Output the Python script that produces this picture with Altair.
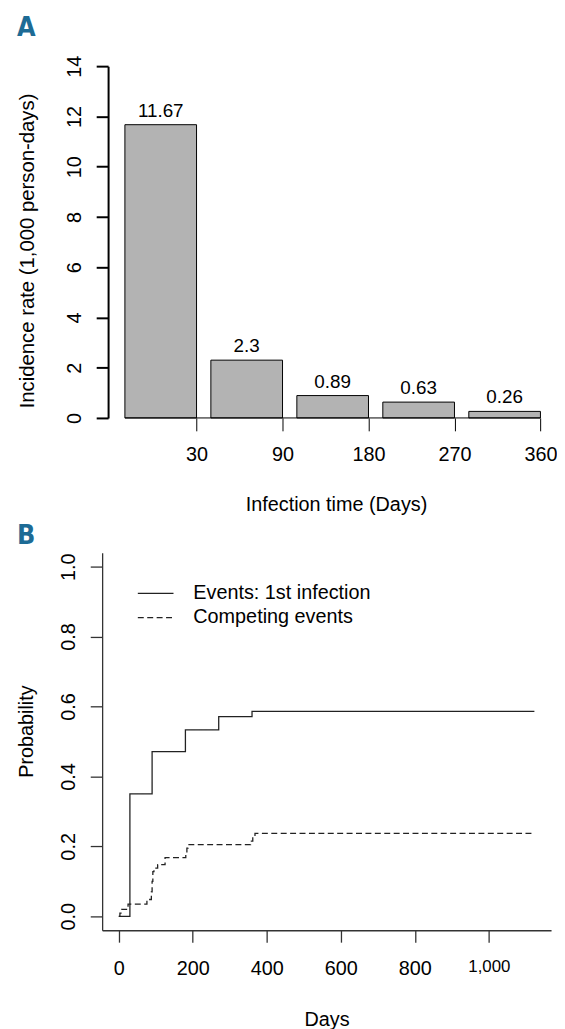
import altair as alt
import pandas as pd

# ---------------- Panel A data ----------------
intervals = ["0-30", "30-90", "90-180", "180-270", "270-360"]
tick_labels = [30, 90, 180, 270, 360]
rates = [11.67, 2.3, 0.89, 0.63, 0.26]
rate_labels = ["11.67", "2.3", "0.89", "0.63", "0.26"]
y_ticks_a = [0, 2, 4, 6, 8, 10, 12, 14]

# ---------------- Panel B data ----------------
series_names = ["Events: 1st infection", "Competing events"]
inf_days = [0, 30, 90, 180, 270, 360, 1123]
inf_prob = [0.0, 0.350, 0.471, 0.533, 0.571, 0.586, 0.586]
comp_days = [0, 3, 8, 25, 76, 88, 90, 92, 95, 105, 125, 181, 184, 187, 356, 362, 368, 1123]
comp_prob = [0.0, 0.009, 0.02, 0.035, 0.048, 0.07, 0.10, 0.128, 0.138, 0.148, 0.168,
             0.18, 0.195, 0.205, 0.215, 0.228, 0.237, 0.237]
x_ticks_b = [0, 200, 400, 600, 800, 1000]
y_ticks_b = [0.0, 0.2, 0.4, 0.6, 0.8, 1.0]

FONT = "Liberation Sans"
PANEL_FONT = "DejaVu Sans Condensed, Roboto Condensed, Roboto, sans-serif"
PANEL_COLOR = "#1d6b95"
BAR_W, GAP = 5, 1  # barplot convention: width 1, space 0.2

lefts = [GAP + (BAR_W + GAP) * i for i in range(len(rates))]
rights = [l + BAR_W for l in lefts]
df_a = pd.DataFrame({
    "interval": intervals, "rate": rates, "label": rate_labels,
    "left": lefts, "right": rights, "mid": [(l + r) / 2 for l, r in zip(lefts, rights)],
})

label_expr = "[%s][indexof([%s], datum.value)]" % (
    ",".join("'%s'" % t for t in tick_labels), ",".join(str(r) for r in rights))

xa_scale = alt.Scale(domain=[-0.588, 30.74], nice=False, zero=False)
ya_scale = alt.Scale(domain=[0, 14], nice=False)

bars = alt.Chart(df_a).mark_rect(fill="#b3b3b3", stroke="#000000", strokeWidth=1).encode(
    x=alt.X("left:Q", scale=xa_scale, axis=alt.Axis(
        values=rights, labelExpr=label_expr, tickSize=13, tickWidth=1, tickColor="#000",
        domain=False, labelFontSize=20, labelPadding=14, labelFlush=False, labelOverlap=False,
        title="Infection time (Days)", titleFontSize=20, titlePadding=30, titleX=236)),
    x2="right:Q",
    y=alt.Y("rate:Q", scale=ya_scale, axis=alt.Axis(
        values=y_ticks_a, tickSize=12, tickWidth=2, tickColor="#000", domainColor="#000",
        domainWidth=2, offset=-6, labelAngle=270, labelAlign="center", labelBaseline="bottom",
        labelFontSize=20, labelPadding=12,
        title="Incidence rate (1,000 person-days)", titleFontSize=20.5, titlePadding=27, titleY=186)),
    y2=alt.datum(0),
)
baseline = alt.Chart(df_a).mark_rule(color="#000", strokeWidth=1).encode(
    x="min(left):Q", x2="max(right):Q", y=alt.datum(0))
values = alt.Chart(df_a).mark_text(dy=-14, baseline="middle", fontSize=19, font=FONT, color="#000").encode(
    x="mid:Q", y="rate:Q", text="label:N")
tag_a = alt.Chart(pd.DataFrame({"panel": ["A"]})).mark_text(
    align="left", baseline="alphabetic", font=PANEL_FONT, fontWeight="bold", fontSize=27,
    color=PANEL_COLOR).encode(text="panel:N", x=alt.value(-86), y=alt.value(-30))

chart_a = alt.layer(bars, baseline, values, tag_a).properties(width=453, height=355)

# ---------------- Panel B ----------------
df_b = pd.concat([
    pd.DataFrame({"series": series_names[0], "day": inf_days, "prob": inf_prob}),
    pd.DataFrame({"series": series_names[1], "day": comp_days, "prob": comp_prob}),
])

lines = alt.Chart(df_b).mark_line(interpolate="step-after", color="#222222", strokeWidth=1.3).encode(
    x=alt.X("day:Q", scale=alt.Scale(domain=[-45, 1168], nice=False, zero=False), axis=alt.Axis(
        values=x_ticks_b, format=",d", tickSize=12, tickColor="#333", domainColor="#333",
        domainWidth=1.3, tickWidth=1.3,
        labelFontSize={"condition": {"test": "datum.value == 1000", "value": 17}, "value": 20},
        labelPadding=17, labelFlush=False, labelOverlap=False,
        title="Days", titleFontSize=20, titlePadding=31)),
    y=alt.Y("prob:Q", scale=alt.Scale(domain=[-0.04, 1.04], nice=False, zero=False), axis=alt.Axis(
        values=y_ticks_b, format=".1f", tickSize=12, tickColor="#333", domainColor="#333",
        domainWidth=1.3, tickWidth=1.3, labelAngle=270, labelAlign="center", labelBaseline="bottom",
        labelFontSize=20, labelPadding=12,
        title="Probability", titleFontSize=20, titlePadding=22, titleY=180)),
    strokeDash=alt.StrokeDash("series:N", scale=alt.Scale(domain=series_names, range=[[1, 0], [6, 3.5]]),
                              legend=alt.Legend(title=None, orient="none", legendX=35, legendY=29,
                                                symbolType="stroke", symbolSize=1296, symbolStrokeWidth=1.3,
                                                symbolStrokeColor="#222", labelFontSize=20, labelFont=FONT,
                                                labelColor="#000", labelLimit=400, clipHeight=24,
                                                labelOffset=19, rowPadding=0.4, padding=0)),
    order="day:Q",
)
tag_b = alt.Chart(pd.DataFrame({"panel": ["B"]})).mark_text(
    align="left", baseline="alphabetic", font=PANEL_FONT, fontWeight="bold", fontSize=27,
    color=PANEL_COLOR).encode(text="panel:N", x=alt.value(-86), y=alt.value(-9))

chart_b = alt.layer(lines, tag_b).properties(width=453, height=381)

chart = alt.vconcat(chart_a, chart_b, spacing=136, bounds="flush").resolve_legend(
    strokeDash="independent"
).properties(
    padding={"left": 9, "top": 2, "right": 0, "bottom": 0}
).configure_view(stroke=None).configure_axis(
    grid=False, labelFont=FONT, titleFont=FONT, labelColor="#000", titleColor="#000",
    titleFontWeight="normal")

chart.save("out.html", embed_options={"renderer": "svg", "actions": False})
